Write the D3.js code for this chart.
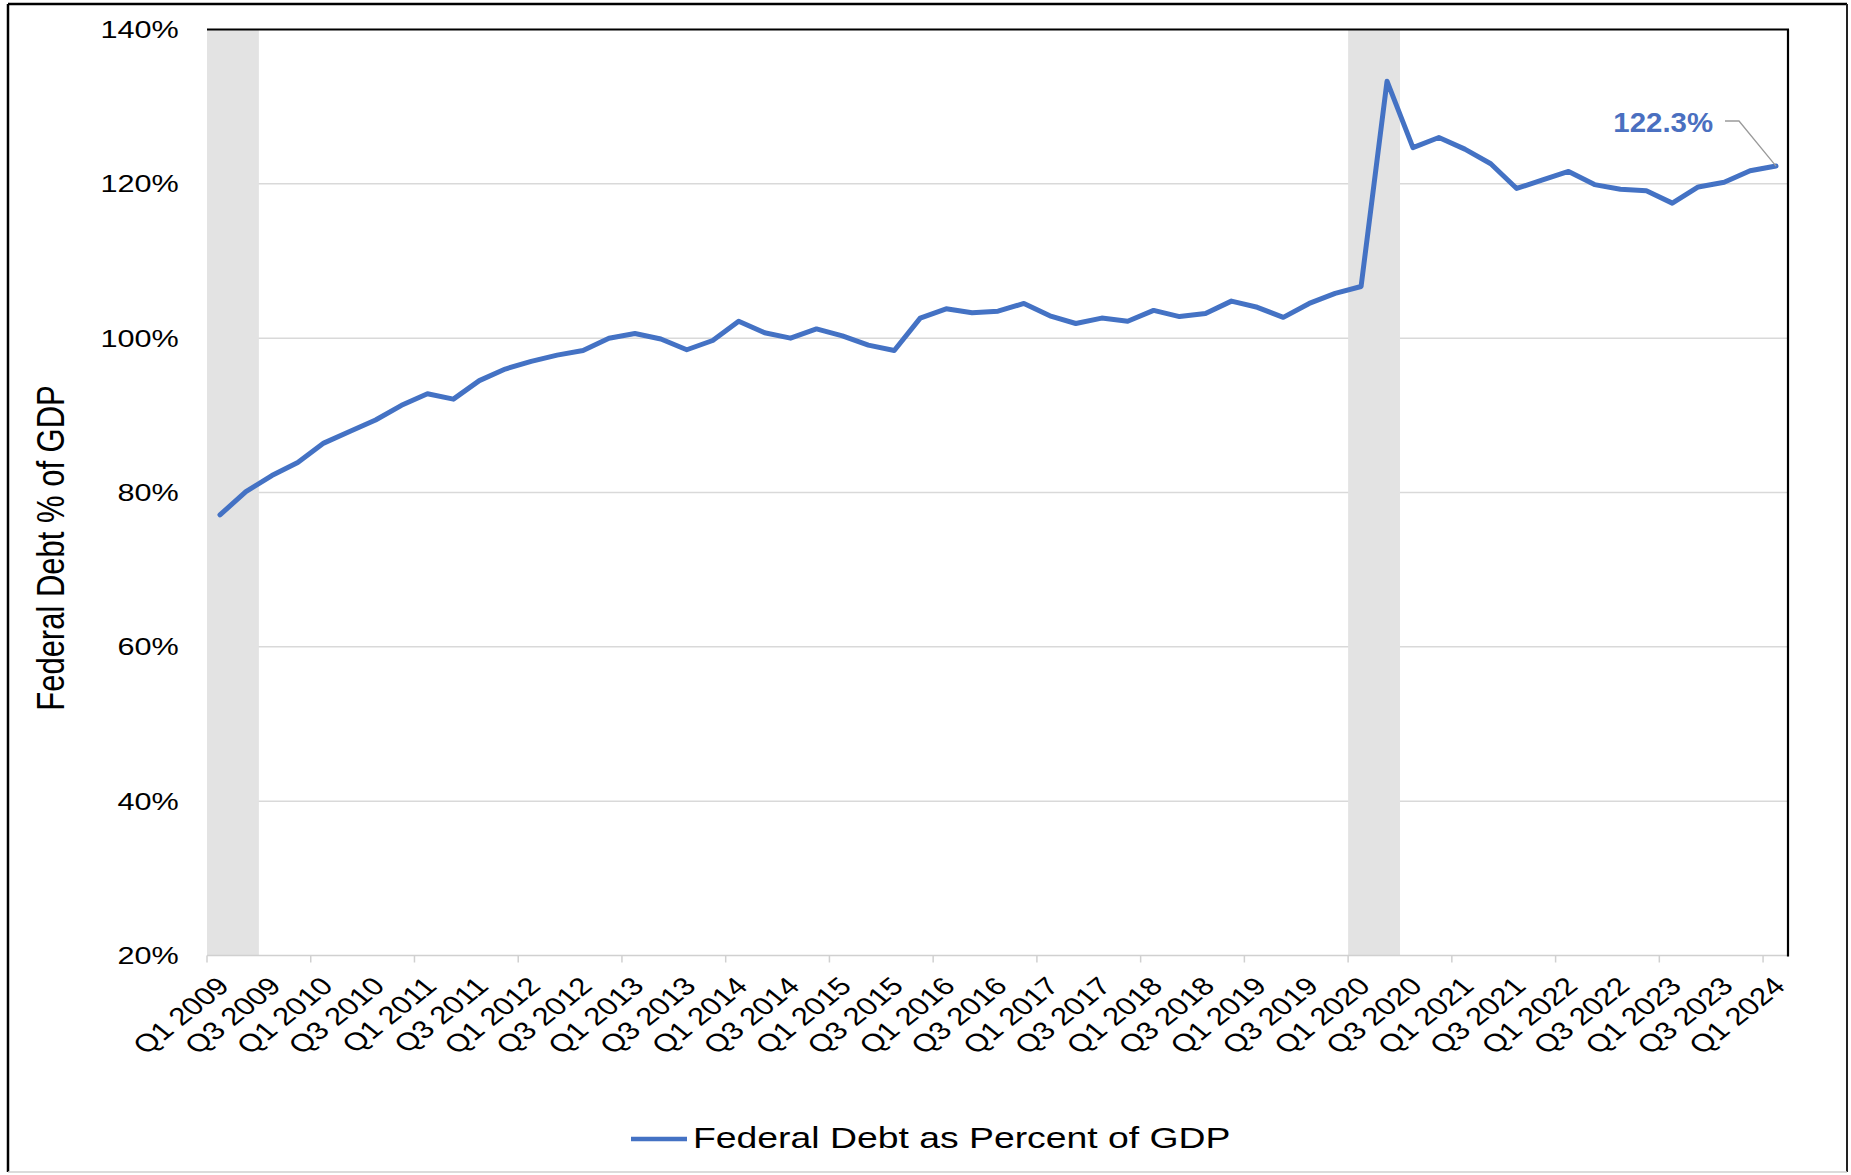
<!DOCTYPE html>
<html>
<head>
<meta charset="utf-8">
<script src="https://cdn.jsdelivr.net/npm/d3@7"></script>
<style>
  html, body { margin: 0; padding: 0; background: #ffffff; }
  svg { display: block; font-family: "Liberation Sans", Arial, Helvetica, sans-serif; }
</style>
</head>
<body>
<svg id="chart" width="1851" height="1175"></svg>
<script>
// ---------------- DATA ----------------
const categories = [
  "Q1 2009","Q2 2009","Q3 2009","Q4 2009",
  "Q1 2010","Q2 2010","Q3 2010","Q4 2010",
  "Q1 2011","Q2 2011","Q3 2011","Q4 2011",
  "Q1 2012","Q2 2012","Q3 2012","Q4 2012",
  "Q1 2013","Q2 2013","Q3 2013","Q4 2013",
  "Q1 2014","Q2 2014","Q3 2014","Q4 2014",
  "Q1 2015","Q2 2015","Q3 2015","Q4 2015",
  "Q1 2016","Q2 2016","Q3 2016","Q4 2016",
  "Q1 2017","Q2 2017","Q3 2017","Q4 2017",
  "Q1 2018","Q2 2018","Q3 2018","Q4 2018",
  "Q1 2019","Q2 2019","Q3 2019","Q4 2019",
  "Q1 2020","Q2 2020","Q3 2020","Q4 2020",
  "Q1 2021","Q2 2021","Q3 2021","Q4 2021",
  "Q1 2022","Q2 2022","Q3 2022","Q4 2022",
  "Q1 2023","Q2 2023","Q3 2023","Q4 2023",
  "Q1 2024"
];

const debtPctOfGDP = [
  77.1, 80.1, 82.2, 83.9,
  86.4, 87.9, 89.4, 91.3,
  92.8, 92.1, 94.5, 96.0,
  97.0, 97.8, 98.4, 100.0,
  100.6, 99.9, 98.5, 99.7,
  102.2, 100.7, 100.0, 101.2,
  100.3, 99.1, 98.4, 102.6,
  103.8, 103.3, 103.5, 104.5,
  102.9, 101.9, 102.6, 102.2,
  103.6, 102.8, 103.2, 104.8,
  104.0, 102.7, 104.5, 105.8,
  106.7, 133.3, 124.7, 126.0,
  124.5, 122.6, 119.4, 120.5,
  121.6, 119.9, 119.3, 119.1,
  117.5, 119.6, 120.2, 121.7,
  122.3
];

const xTickLabels = [
  "Q1 2009","Q3 2009","Q1 2010","Q3 2010","Q1 2011","Q3 2011","Q1 2012","Q3 2012",
  "Q1 2013","Q3 2013","Q1 2014","Q3 2014","Q1 2015","Q3 2015","Q1 2016","Q3 2016",
  "Q1 2017","Q3 2017","Q1 2018","Q3 2018","Q1 2019","Q3 2019","Q1 2020","Q3 2020",
  "Q1 2021","Q3 2021","Q1 2022","Q3 2022","Q1 2023","Q3 2023","Q1 2024"
];
const xTickMarkCats = [
  "Q1 2009","Q1 2010","Q1 2011","Q1 2012","Q1 2013","Q1 2014","Q1 2015","Q1 2016",
  "Q1 2017","Q1 2018","Q1 2019","Q1 2020","Q1 2021","Q1 2022","Q1 2023","Q1 2024"
];

const yTickValues = [20, 40, 60, 80, 100, 120, 140];
const gridValues = [40, 60, 80, 100, 120];

const recessionStarts = ["Q1 2009", "Q1 2020"];
const recessionEnds   = ["Q2 2009", "Q2 2020"];

const seriesName = "Federal Debt as Percent of GDP";
const yAxisTitle = "Federal Debt % of GDP";
const lastValueLabel = "122.3%";

// ---------------- LAYOUT ----------------
const plotLeft = 207, plotRight = 1789, plotTop = 29.5, plotBottom = 955.5;
const SX = 1.25;               // horizontal stretch of the original picture's text
const lineColor = "#4472C4";

const svg = d3.select("#chart");

// outer frame
svg.append("rect").attr("x", 0).attr("y", 0).attr("width", 1851).attr("height", 1175).attr("fill", "#fff");
svg.append("line").attr("x1", 8).attr("y1", 4).attr("x2", 1847).attr("y2", 4).attr("stroke", "#000").attr("stroke-width", 2.5);
svg.append("line").attr("x1", 8).attr("y1", 4).attr("x2", 8).attr("y2", 1172).attr("stroke", "#000").attr("stroke-width", 2.5);
svg.append("line").attr("x1", 1847).attr("y1", 4).attr("x2", 1847).attr("y2", 1172).attr("stroke", "#222").attr("stroke-width", 2);
svg.append("line").attr("x1", 8).attr("y1", 1172).attr("x2", 1847).attr("y2", 1172).attr("stroke", "#cfcfcf").attr("stroke-width", 1.5);

// scales
const x = d3.scaleBand().domain(categories).range([plotLeft, plotRight]).paddingInner(0).paddingOuter(0);
const xc = d => x(d) + x.bandwidth() / 2;
const y = d3.scaleLinear().domain([20, 140]).range([plotBottom, plotTop]);

// gridlines
svg.append("g").selectAll("line").data(gridValues).join("line")
  .attr("x1", plotLeft).attr("x2", plotRight)
  .attr("y1", d => y(d)).attr("y2", d => y(d))
  .attr("stroke", "#d9d9d9").attr("stroke-width", 1.5);

// recession shading
svg.append("g").selectAll("rect").data(recessionStarts).join("rect")
  .attr("x", d => x(d))
  .attr("width", (d, i) => x(recessionEnds[i]) + x.bandwidth() - x(d))
  .attr("y", plotTop).attr("height", plotBottom - plotTop)
  .attr("fill", "#e3e3e3");

// bottom axis line
svg.append("line").attr("x1", plotLeft).attr("x2", plotRight)
  .attr("y1", plotBottom).attr("y2", plotBottom)
  .attr("stroke", "#d0d0d0").attr("stroke-width", 1.5);

// x tick marks (year boundaries)
svg.append("g").selectAll("line").data(xTickMarkCats).join("line")
  .attr("x1", d => x(d)).attr("x2", d => x(d))
  .attr("y1", plotBottom).attr("y2", plotBottom + 7)
  .attr("stroke", "#d0d0d0").attr("stroke-width", 1.5);

// plot frame (top & right black)
svg.append("line").attr("x1", plotLeft).attr("x2", plotRight).attr("y1", plotTop).attr("y2", plotTop)
  .attr("stroke", "#000").attr("stroke-width", 2);
svg.append("line").attr("x1", plotRight - 1).attr("x2", plotRight - 1).attr("y1", plotTop).attr("y2", plotBottom + 1)
  .attr("stroke", "#000").attr("stroke-width", 2.2);

// y axis
const yAxis = d3.axisLeft(y).tickValues(yTickValues).tickSize(0).tickPadding(9).tickFormat(d => d + "%");
const gy = svg.append("g").attr("transform", "translate(190,0)").call(yAxis);
gy.select(".domain").remove();
gy.selectAll("text")
  .attr("font-family", "'Liberation Sans', Arial, sans-serif")
  .attr("font-size", 24.5).attr("fill", "#000")
  .attr("transform", `scale(${SX},1)`);

// x axis labels
const xAxis = d3.axisBottom(x).tickValues(xTickLabels).tickSize(0).tickPadding(0);
const gx = svg.append("g").attr("transform", `translate(0,${plotBottom})`).call(xAxis);
gx.select(".domain").remove();
gx.selectAll("text")
  .attr("font-family", "'Liberation Sans', Arial, sans-serif")
  .attr("font-size", 25).attr("fill", "#000")
  .attr("x", 0).attr("y", 0).attr("dy", "0.35em")
  .attr("text-anchor", "end")
  .attr("transform", `translate(3,26) scale(${SX},1) rotate(-45)`);

// y axis title
svg.append("text")
  .attr("transform", `translate(64,548) scale(${SX},1) rotate(-90)`)
  .attr("text-anchor", "middle")
  .attr("font-size", 31).attr("fill", "#000")
  .text(yAxisTitle);

// series line
const line = d3.line()
  .x((d, i) => xc(categories[i]))
  .y(d => y(d));
svg.append("path").datum(debtPctOfGDP)
  .attr("d", line)
  .attr("fill", "none")
  .attr("stroke", lineColor)
  .attr("stroke-width", 5)
  .attr("stroke-linejoin", "round")
  .attr("stroke-linecap", "round");

// last value annotation
const lastCat = categories[categories.length - 1];
const lastVal = debtPctOfGDP[debtPctOfGDP.length - 1];
const lx = xc(lastCat), ly = y(lastVal);
svg.append("polyline")
  .attr("points", `${1725},${121} ${1739},${121} ${lx},${ly}`)
  .attr("fill", "none").attr("stroke", "#9a9a9a").attr("stroke-width", 1.3);
svg.append("text")
  .attr("transform", `translate(1713,131.5) scale(1.05,1)`)
  .attr("text-anchor", "end")
  .attr("font-size", 28).attr("font-weight", "bold")
  .attr("fill", "#4A6FC0")
  .text(lastValueLabel);

// legend
svg.append("line").attr("x1", 631).attr("x2", 687).attr("y1", 1139).attr("y2", 1139)
  .attr("stroke", lineColor).attr("stroke-width", 4.5);
svg.append("text")
  .attr("transform", `translate(693,1148) scale(1.245,1)`)
  .attr("font-size", 30).attr("fill", "#000")
  .text(seriesName);
</script>
</body>
</html>
